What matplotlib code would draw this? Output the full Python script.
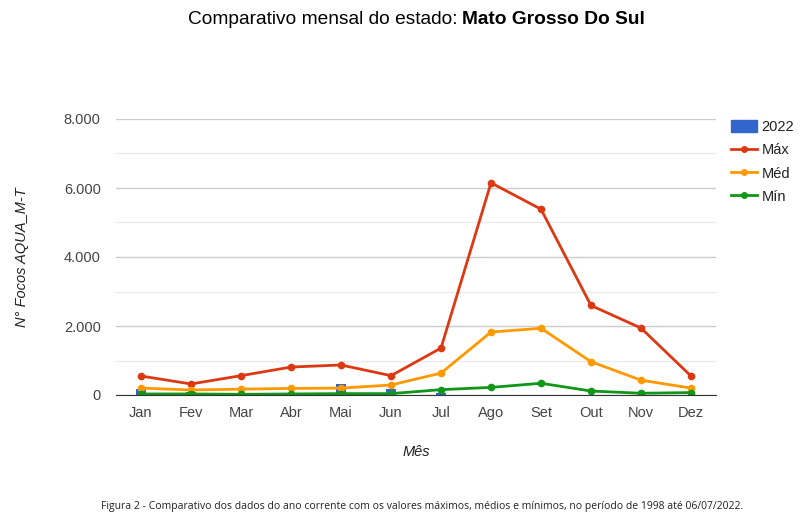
import matplotlib.pyplot as plt
import numpy as np
from matplotlib.patches import Patch
from matplotlib.lines import Line2D

plt.rcParams['font.family'] = ['Liberation Sans', 'DejaVu Sans']

meses = ['Jan', 'Fev', 'Mar', 'Abr', 'Mai', 'Jun', 'Jul', 'Ago', 'Set', 'Out', 'Nov', 'Dez']
ano_2022 = [170, 90, 70, 30, 310, 165, 50, 0, 0, 0, 0, 0]
maximo = [550, 320, 560, 810, 870, 560, 1360, 6150, 5385, 2595, 1940, 550]
medio = [200, 145, 170, 190, 200, 290, 635, 1825, 1935, 965, 430, 200]
minimo = [30, 30, 20, 30, 40, 40, 155, 220, 340, 115, 50, 70]

c_bar = '#3366cc'
c_max = '#dc3912'
c_med = '#ff9900'
c_min = '#109618'

fig = plt.figure(figsize=(8.1, 5.27), dpi=100)
ax = fig.add_axes([116 / 810, 132 / 527, 600 / 810, 276 / 527])

x = np.arange(len(meses))
ax.bar(x, ano_2022, width=0.2, color=c_bar, zorder=2)
for vals, c in [(maximo, c_max), (medio, c_med), (minimo, c_min)]:
    ax.plot(x, vals, color=c, lw=2, marker='o', ms=4.5, zorder=3)

ax.set_xlim(-0.5, 11.5)
ax.set_ylim(0, 8000)
ax.set_yticks([0, 2000, 4000, 6000, 8000])
ax.set_yticklabels(['0', '2.000', '4.000', '6.000', '8.000'])
ax.set_yticks([1000, 3000, 5000, 7000], minor=True)
ax.grid(True, axis='y', which='major', color='#cccccc', lw=1, zorder=0)
ax.grid(True, axis='y', which='minor', color='#ebebeb', lw=1, zorder=0)
ax.set_xticks(x)
ax.set_xticklabels(meses)
ax.tick_params(axis='both', which='both', length=0, labelsize=10.5, labelcolor='#444444')
ax.tick_params(axis='y', pad=11)
ax.tick_params(axis='x', pad=8)
for s in ['top', 'right', 'left']:
    ax.spines[s].set_visible(False)
ax.spines['bottom'].set_color('#333333')
ax.spines['bottom'].set_zorder(4)

ax.set_xlabel('Mês', fontsize=10.5, style='italic', color='#222222', labelpad=18)
ax.set_ylabel('N° Focos AQUA_M-T', fontsize=10.5, style='italic', color='#222222', labelpad=25)

fig.text(457 / 810, 1 - 20 / 527, 'Comparativo mensal do estado:',
         ha='right', va='center', fontsize=13.8, color='#000000')
fig.text(462 / 810, 1 - 20 / 527, 'Mato Grosso Do Sul',
         ha='left', va='center', fontsize=13.8, color='#000000', fontweight='bold')

handles = [Patch(color=c_bar, label='2022'),
           Line2D([0], [0], color=c_max, lw=2, marker='o', ms=4, label='Máx'),
           Line2D([0], [0], color=c_med, lw=2, marker='o', ms=4, label='Méd'),
           Line2D([0], [0], color=c_min, lw=2, marker='o', ms=4, label='Mín')]
fig.legend(handles=handles, loc='upper left', bbox_to_anchor=(718 / 810, 1 - 107 / 527),
           frameon=False, fontsize=10.5, handlelength=1.8, handleheight=0.8,
           handletextpad=0.3, labelspacing=0.63, labelcolor='#222222')

fig.text(422 / 810, 1 - 507 / 527,
         'Figura 2 - Comparativo dos dados do ano corrente com os valores máximos, médios e mínimos, no período de 1998 até 06/07/2022.',
         ha='center', va='center', fontsize=7.5, color='#222222', family=['Open Sans', 'DejaVu Sans'])

fig.savefig('out.png', dpi=100, facecolor='white')
